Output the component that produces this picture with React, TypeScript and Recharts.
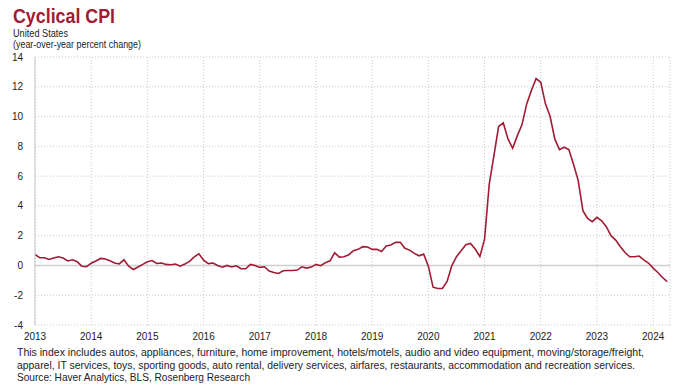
import { LineChart, Line, XAxis, YAxis, CartesianGrid, ReferenceLine } from 'recharts'

// monthly, Jan 2013 .. Apr 2024
const START_YEAR = 2013

const cyclicalCpi = [
  // 2013
  0.74, 0.52, 0.52, 0.4, 0.5, 0.58, 0.5, 0.3, 0.38, 0.25, -0.05, -0.08,
  // 2014
  0.15, 0.3, 0.47, 0.43, 0.32, 0.16, 0.1, 0.38, -0.05, -0.27, -0.1, 0.07,
  // 2015
  0.25, 0.33, 0.13, 0.16, 0.07, 0.05, 0.1, -0.05, 0.1, 0.27, 0.58, 0.78,
  // 2016
  0.35, 0.12, 0.16, 0.0, -0.12, 0.0, -0.1, -0.02, -0.22, -0.22, 0.07, 0.0,
  // 2017
  -0.13, -0.09, -0.38, -0.47, -0.54, -0.36, -0.34, -0.34, -0.31, -0.09, -0.18, -0.11,
  // 2018
  0.07, -0.02, 0.18, 0.31, 0.85, 0.56, 0.58, 0.72, 0.99, 1.08, 1.26, 1.24,
  // 2019
  1.08, 1.08, 0.94, 1.3, 1.37, 1.55, 1.55, 1.15, 1.03, 0.81, 0.65, 0.76,
  // 2020
  -0.05, -1.46, -1.55, -1.55, -1.08, -0.03, 0.59, 0.98, 1.39, 1.48, 1.1, 0.6,
  // 2021
  1.77, 5.47, 7.38, 9.33, 9.57, 8.5, 7.87, 8.72, 9.46, 10.85, 11.75, 12.55,
  // 2022
  12.3, 10.85, 10.0, 8.5, 7.78, 7.94, 7.78, 6.8, 5.7, 3.68, 3.16, 2.94,
  // 2023
  3.23, 3.0, 2.6, 2.0, 1.7, 1.26, 0.87, 0.58, 0.58, 0.63, 0.38, 0.16,
  // 2024
  -0.18, -0.47, -0.81, -1.08,
]

const yearTicks = [2013, 2014, 2015, 2016, 2017, 2018, 2019, 2020, 2021, 2022, 2023, 2024]
const valueTicks = [-4, -2, 0, 2, 4, 6, 8, 10, 12, 14]

const footnote = [
  'This index includes autos, appliances, furniture, home improvement, hotels/motels, audio and video equipment, moving/storage/freight,',
  'apparel, IT services, toys, sporting goods, auto rental, delivery services, airfares, restaurants, accommodation and recreation services.',
  'Source: Haver Analytics, BLS, Rosenberg Research',
]

const data = cyclicalCpi.map((v, i) => ({ t: START_YEAR + i / 12, v }))

const RED = '#a11c33'
const FONT = '"Liberation Sans", Arial, sans-serif'

export default function App() {
  return (
    <div style={{ position: 'absolute', left: 0, top: 0, width: 680, height: 387, background: '#fff', fontFamily: FONT }}>
      <LineChart width={680} height={387} data={data} margin={{ top: 57, right: 10, bottom: 32, left: 5 }} style={{ position: 'absolute', left: 0, top: 0 }}>
        <CartesianGrid stroke="#c8c8c8" strokeDasharray="1 2" />
        <XAxis
          type="number"
          dataKey="t"
          domain={[2013, 2024.3]}
          ticks={yearTicks}
          tickFormatter={(v: number) => String(Math.round(v))}
          axisLine={false}
          tickLine={false}
          tick={{ fontSize: 10, fill: '#222', fontFamily: FONT }}
          tickMargin={2}
          height={30}
        />
        <YAxis
          type="number"
          domain={[-4, 14]}
          ticks={valueTicks}
          width={30}
          axisLine={{ stroke: '#c8c8c8' }}
          tickLine={false}
          tick={{ fontSize: 10, fill: '#222', fontFamily: FONT }}
          tickMargin={6}
          interval={0}
        />
        <ReferenceLine y={0} stroke="#cfcfcf" strokeWidth={1.5} />
        <Line type="linear" dataKey="v" stroke={RED} strokeWidth={1.6} dot={false} isAnimationActive={false} />
      </LineChart>

      <svg width={680} height={387} style={{ position: 'absolute', left: 0, top: 0, pointerEvents: 'none' }}>
        <text x={13} y={23} fontSize={19.5} fontWeight={900} fill={RED} fontFamily={FONT} textLength={102} lengthAdjust="spacingAndGlyphs">
          Cyclical CPI
        </text>
        <text x={13} y={37} fontSize={10.5} fill="#222" fontFamily={FONT} textLength={55} lengthAdjust="spacingAndGlyphs">
          United States
        </text>
        <text x={13} y={47.5} fontSize={10.5} fill="#222" fontFamily={FONT} textLength={128} lengthAdjust="spacingAndGlyphs">
          (year-over-year percent change)
        </text>
        <text x={17} y={355.5} fontSize={10.5} fill="#222" fontFamily={FONT} textLength={627} lengthAdjust="spacingAndGlyphs">
          {footnote[0]}
        </text>
        <text x={17} y={369} fontSize={10.5} fill="#222" fontFamily={FONT} textLength={618} lengthAdjust="spacingAndGlyphs">
          {footnote[1]}
        </text>
        <text x={17} y={380.5} fontSize={10.5} fill="#222" fontFamily={FONT} textLength={233} lengthAdjust="spacingAndGlyphs">
          {footnote[2]}
        </text>
      </svg>
    </div>
  )
}
